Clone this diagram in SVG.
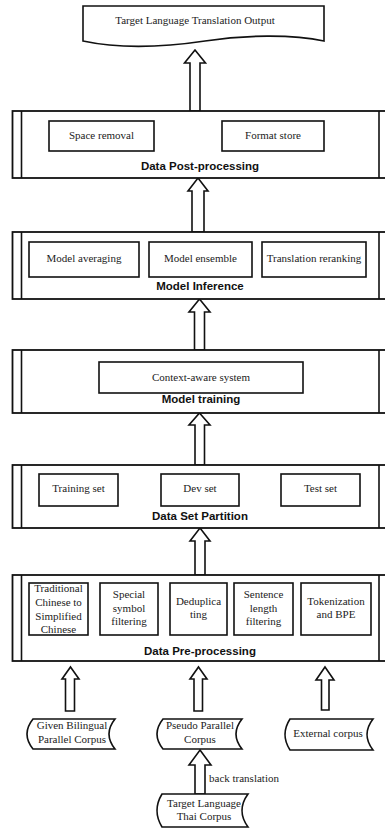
<svg xmlns="http://www.w3.org/2000/svg" width="385" height="829" viewBox="0 0 385 829">
<style>
.b{fill:#fff;stroke:#111;stroke-width:1.6}
.o{fill:#fff;stroke:#111;stroke-width:1.8}
.l{stroke:#111;stroke-width:1.6;fill:none}
.a{fill:#fff;stroke:#111;stroke-width:1.6;stroke-linejoin:miter}
.t{font-family:"Liberation Serif","Times New Roman",serif;font-size:11px;fill:#222;text-anchor:middle}
.h{font-family:"Liberation Sans",Arial,sans-serif;font-size:11.5px;font-weight:bold;fill:#111;text-anchor:middle}
.s{font-family:"Liberation Serif","Times New Roman",serif;font-size:11px;fill:#222}
</style>
<rect width="385" height="829" fill="#fff"/>
<g id="connectors">
<path class="a" d="M195,50 L205.5,63 L200,63 L200,111 L190,111 L190,63 L184.5,63 Z"/>
<path class="a" d="M198,178 L208,191 L204,191 L204,232 L192,232 L192,191 L188,191 Z"/>
<path class="a" d="M199.5,299 L210,312 L204.5,312 L204.5,350 L194.5,350 L194.5,312 L189,312 Z"/>
<path class="a" d="M199.5,413 L210,425 L204.5,425 L204.5,465 L195,465 L195,425 L189,425 Z"/>
<path class="a" d="M200,528 L210,541 L205,541 L205,575 L195,575 L195,541 L190,541 Z"/>
<path class="a" d="M70.5,667 L79,679 L74.5,679 L74.5,711 L65.5,711 L65.5,679 L62,679 Z"/>
<path class="a" d="M198.5,667 L207,679 L202.5,679 L202.5,711 L194,711 L194,679 L190,679 Z"/>
<path class="a" d="M325,667 L334,680 L329,680 L329,710 L321.5,710 L321.5,680 L316,680 Z"/>
<path class="a" d="M200,750 L211,765 L205,765 L205,794 L195,794 L195,765 L189,765 Z"/>
<text class="s" x="209" y="782">back translation</text>
</g>
<g id="output">
<path class="b" d="M83,6 H324 V41 C292,34 244,35 205,41 C165,47 120,49 83,41 Z"/>
<text class="t" x="195" y="24">Target Language Translation Output</text>
</g>
<g id="post">
<rect class="o" x="12.5" y="111" width="374" height="67"/>
<line class="l" x1="21.5" y1="111" x2="21.5" y2="178"/>
<line class="l" x1="379" y1="111" x2="379" y2="178"/>
<rect class="b" x="49" y="121" width="105" height="30"/>
<text class="t" x="101.5" y="139">Space removal</text>
<rect class="b" x="222" y="121" width="102" height="30"/>
<text class="t" x="273" y="139">Format store</text>
<text class="h" x="200" y="170">Data Post-processing</text>
</g>
<g id="inference">
<rect class="o" x="12.5" y="232" width="374" height="67"/>
<line class="l" x1="21.5" y1="232" x2="21.5" y2="299"/>
<line class="l" x1="379" y1="232" x2="379" y2="299"/>
<rect class="b" x="29" y="242" width="110" height="35"/>
<text class="t" x="84" y="262">Model averaging</text>
<rect class="b" x="149" y="242" width="103" height="35"/>
<text class="t" x="200.5" y="262">Model ensemble</text>
<rect class="b" x="262" y="242" width="104" height="35"/>
<text class="t" x="314" y="262">Translation reranking</text>
<text class="h" x="200" y="290">Model Inference</text>
</g>
<g id="training">
<rect class="o" x="12.5" y="350" width="374" height="63"/>
<line class="l" x1="21.5" y1="350" x2="21.5" y2="413"/>
<line class="l" x1="379" y1="350" x2="379" y2="413"/>
<rect class="b" x="99" y="362" width="204" height="31"/>
<text class="t" x="201" y="381">Context-aware system</text>
<text class="h" x="201" y="403">Model training</text>
</g>
<g id="partition">
<rect class="o" x="12.5" y="465" width="374" height="63"/>
<line class="l" x1="21.5" y1="465" x2="21.5" y2="528"/>
<line class="l" x1="379" y1="465" x2="379" y2="528"/>
<rect class="b" x="39" y="474" width="79" height="32"/>
<text class="t" x="78.5" y="492">Training set</text>
<rect class="b" x="161" y="474" width="78" height="32"/>
<text class="t" x="200" y="492">Dev set</text>
<rect class="b" x="281" y="474" width="79" height="32"/>
<text class="t" x="320.5" y="492">Test set</text>
<text class="h" x="200" y="520">Data Set Partition</text>
</g>
<g id="preprocessing">
<rect class="o" x="12.5" y="575" width="374" height="86"/>
<line class="l" x1="21.5" y1="575" x2="21.5" y2="661"/>
<line class="l" x1="379" y1="575" x2="379" y2="661"/>
<rect class="b" x="29" y="583" width="59" height="52"/>
<text class="t" x="58.5" y="592">Traditional</text>
<text class="t" x="58.5" y="606">Chinese to</text>
<text class="t" x="58.5" y="620">Simplified</text>
<text class="t" x="58.5" y="633">Chinese</text>
<rect class="b" x="100" y="583" width="58" height="52"/>
<text class="t" x="129" y="598">Special</text>
<text class="t" x="129" y="612">symbol</text>
<text class="t" x="129" y="625">filtering</text>
<rect class="b" x="170" y="583" width="57" height="52"/>
<text class="t" x="198.5" y="605">Deduplica</text>
<text class="t" x="198.5" y="618">ting</text>
<rect class="b" x="234" y="583" width="59" height="52"/>
<text class="t" x="263.5" y="598">Sentence</text>
<text class="t" x="263.5" y="612">length</text>
<text class="t" x="263.5" y="625">filtering</text>
<rect class="b" x="301" y="583" width="70" height="52"/>
<text class="t" x="336" y="605">Tokenization</text>
<text class="t" x="336" y="618">and BPE</text>
<text class="h" x="200" y="655">Data Pre-processing</text>
</g>
<g id="given">
<path class="b" d="M33,719 H115 Q103,734 115,749 H33 Q21,734 33,719 Z"/>
<text class="t" x="72" y="729">Given Bilingual</text>
<text class="t" x="72" y="743">Parallel Corpus</text>
</g>
<g id="pseudo">
<path class="b" d="M163,719 H242 Q230,734 242,749 H163 Q151,734 163,719 Z"/>
<text class="t" x="200" y="729">Pseudo Parallel</text>
<text class="t" x="200" y="743">Corpus</text>
</g>
<g id="external">
<path class="b" d="M290,719 H373 Q361,734.5 373,750 H290 Q280,734.5 290,719 Z"/>
<text class="t" x="328" y="737">External corpus</text>
</g>
<g id="thai">
<path class="b" d="M162,794 H248 Q236,810.5 248,827 H162 Q152,810.5 162,794 Z"/>
<text class="t" x="204" y="807">Target Language</text>
<text class="t" x="204" y="820">Thai Corpus</text>
</g>
</svg>
